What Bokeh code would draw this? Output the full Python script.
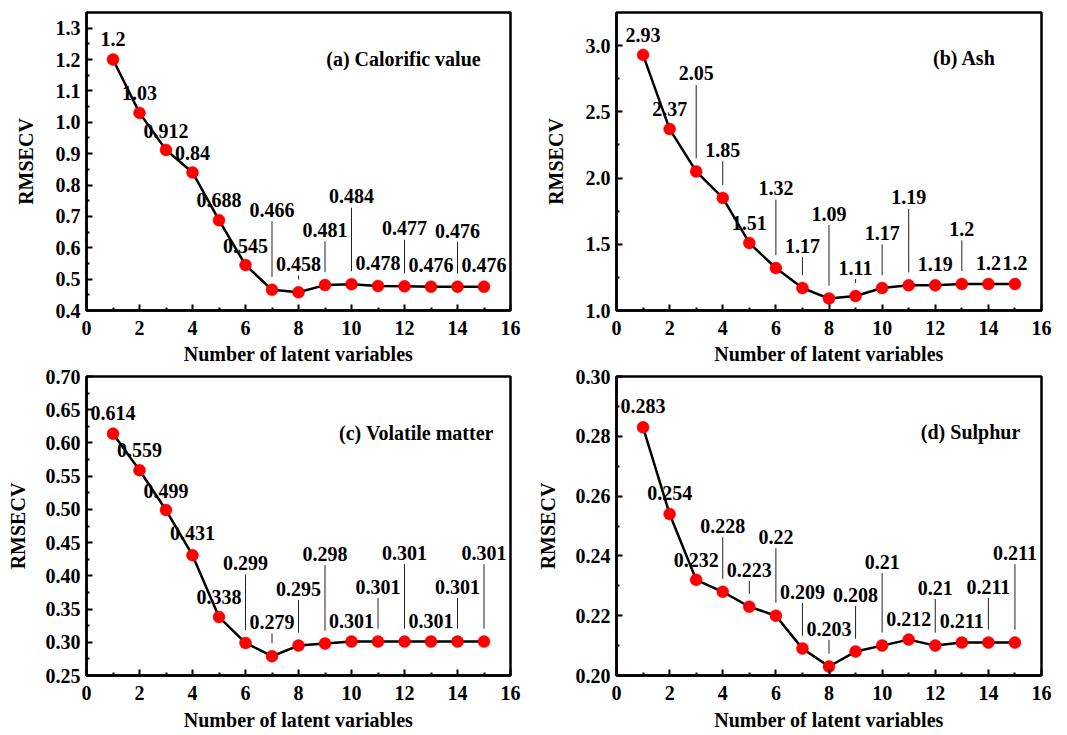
from bokeh.plotting import figure
from bokeh.models import FixedTicker, PrintfTickFormatter, ColumnDataSource, Label, Range1d
from bokeh.layouts import column, row
from bokeh.embed import file_html
from bokeh.resources import INLINE
from bokeh.core.properties import value

# ---------------- data ----------------
n_latent = list(range(1, 16))

calorific = [1.2, 1.03, 0.912, 0.84, 0.688, 0.545, 0.466, 0.458, 0.481, 0.484,
             0.478, 0.477, 0.476, 0.476, 0.476]
ash = [2.93, 2.37, 2.05, 1.85, 1.51, 1.32, 1.17, 1.09, 1.11, 1.17,
       1.19, 1.19, 1.2, 1.2, 1.2]
volatile = [0.614, 0.559, 0.499, 0.431, 0.338, 0.299, 0.279, 0.295, 0.298, 0.301,
            0.301, 0.301, 0.301, 0.301, 0.301]
sulphur = [0.283, 0.254, 0.232, 0.228, 0.223, 0.22, 0.209, 0.203, 0.208, 0.21,
           0.212, 0.21, 0.211, 0.211, 0.211]

panel_titles = ["(a) Calorific value", "(b) Ash", "(c) Volatile matter", "(d) Sulphur"]

x_ticks = [0, 2, 4, 6, 8, 10, 12, 14, 16]
x_minor = [1, 3, 5, 7, 9, 11, 13, 15]

a_yticks = [0.4, 0.5, 0.6, 0.7, 0.8, 0.9, 1.0, 1.1, 1.2, 1.3]
b_yticks = [1.0, 1.5, 2.0, 2.5, 3.0]
c_yticks = [0.25, 0.30, 0.35, 0.40, 0.45, 0.50, 0.55, 0.60, 0.65, 0.70]
d_yticks = [0.20, 0.22, 0.24, 0.26, 0.28, 0.30]

a_yminor = [0.45, 0.55, 0.65, 0.75, 0.85, 0.95, 1.05, 1.15, 1.25]
b_yminor = [1.25, 1.75, 2.25, 2.75]
c_yminor = [0.275, 0.325, 0.375, 0.425, 0.475, 0.525, 0.575, 0.625, 0.675]
d_yminor = [0.21, 0.23, 0.25, 0.27, 0.29]

# label lift above each point, in pixels (layout only)
a_lift = [21, 20, 19, 19, 20, 19, 80, 28, 55, 88, 23, 58, 22, 56, 22]
b_lift = [20, 20, 98, 48, 20, 80, 42, 85, 28, 55, 88, 21, 55, 21, 21]
c_lift = [21, 20, 19, 22, 20, 80, 34, 57, 90, 21, 55, 89, 21, 55, 89]
d_lift = [21, 21, 20, 66, 37, 79, 57, 38, 57, 84, 21, 58, 22, 56, 90]

FONT = "Liberation Serif"


def make_panel(vals, lifts, yr, yticks, yminor, yfmt, title, tpos,
               w, h, bl, br, bt, bb, lab_standoff, ax_standoff, y_ax_standoff):
    p = figure(width=w, height=h, x_range=Range1d(0, 16), y_range=Range1d(*yr),
               output_backend="svg", toolbar_location=None,
               min_border_left=bl, min_border_right=br,
               min_border_top=bt, min_border_bottom=bb)
    p.xgrid.visible = False
    p.ygrid.visible = False
    p.outline_line_color = "black"
    p.outline_line_width = 2.5
    p.background_fill_color = "white"

    frame_h = h - bt - bb
    k = (yr[1] - yr[0]) / frame_h

    # value labels (under the line)
    src = ColumnDataSource(dict(x=n_latent, y=vals, text=[str(v) for v in vals],
                                yoff=[-l for l in lifts]))
    p.text(x="x", y="y", text="text", y_offset="yoff", source=src,
           text_font=value(FONT), text_font_style="bold", text_font_size="20px",
           text_color="black", text_align="center", text_baseline="middle")

    # leader lines
    lx, ly0, ly1 = [], [], []
    for xi, v, l in zip(n_latent, vals, lifts):
        if l > 26:
            lx.append(xi)
            ly0.append(v + 13 * k)
            ly1.append(v + (l - 11) * k)
    p.segment(x0=lx, y0=ly0, x1=lx, y1=ly1, line_color="#222222", line_width=1)

    p.line(n_latent, vals, line_color="black", line_width=2.5)
    p.scatter(n_latent, vals, size=12, fill_color="#ff0000", line_color="#ee0000",
              line_width=0.5)

    p.add_layout(Label(x=tpos[0], y=tpos[1], text=title, text_font=FONT,
                       text_font_style="bold", text_font_size="20px",
                       text_align="center", text_baseline="middle",
                       text_color="black"))

    p.xaxis.ticker = FixedTicker(ticks=x_ticks, minor_ticks=x_minor)
    p.yaxis.ticker = FixedTicker(ticks=yticks, minor_ticks=yminor)
    p.yaxis.formatter = PrintfTickFormatter(format=yfmt)
    p.xaxis.axis_label = "Number of latent variables"
    p.yaxis.axis_label = "RMSECV"

    for ax in (p.xaxis[0], p.yaxis[0]):
        ax.axis_line_width = 2.5
        ax.axis_line_color = "black"
        ax.major_tick_in = 6
        ax.major_tick_out = 0
        ax.minor_tick_in = 3
        ax.minor_tick_out = 0
        ax.major_tick_line_width = 2
        ax.minor_tick_line_width = 2
        ax.major_tick_line_color = "black"
        ax.minor_tick_line_color = "black"
        ax.major_label_text_font = FONT
        ax.major_label_text_font_style = "bold"
        ax.major_label_text_font_size = "20px"
        ax.major_label_text_color = "black"
        ax.axis_label_text_font = FONT
        ax.axis_label_text_font_style = "bold"
        ax.axis_label_text_font_size = "20px"
        ax.axis_label_text_color = "black"
    p.yaxis.major_label_standoff = 6
    p.yaxis.axis_label_standoff = y_ax_standoff
    p.xaxis.major_label_standoff = lab_standoff
    p.xaxis.axis_label_standoff = ax_standoff
    return p


pa = make_panel(calorific, a_lift, (0.4, 1.35), a_yticks, a_yminor, "%.1f",
                panel_titles[0], (11.96, 1.2025),
                530, 367, 86, 20, 12, 55, 10, 5, 16)
pb = make_panel(ash, b_lift, (1.0, 3.25), b_yticks, b_yminor, "%.1f",
                panel_titles[1], (13.1, 2.905),
                525, 367, 86, 14, 12, 55, 10, 5, 16)
pc = make_panel(volatile, c_lift, (0.25, 0.70), c_yticks, c_yminor, "%.2f",
                panel_titles[2], (12.45, 0.615),
                530, 366, 86, 20, 9, 56, 10, 6, 14)
pd = make_panel(sulphur, d_lift, (0.20, 0.30), d_yticks, d_yminor, "%.2f",
                panel_titles[3], (13.33, 0.2815),
                525, 366, 86, 14, 9, 56, 10, 6, 14)

layout = column(row(pa, pb), row(pc, pd))
open("out.html", "w").write(file_html(layout, INLINE))
